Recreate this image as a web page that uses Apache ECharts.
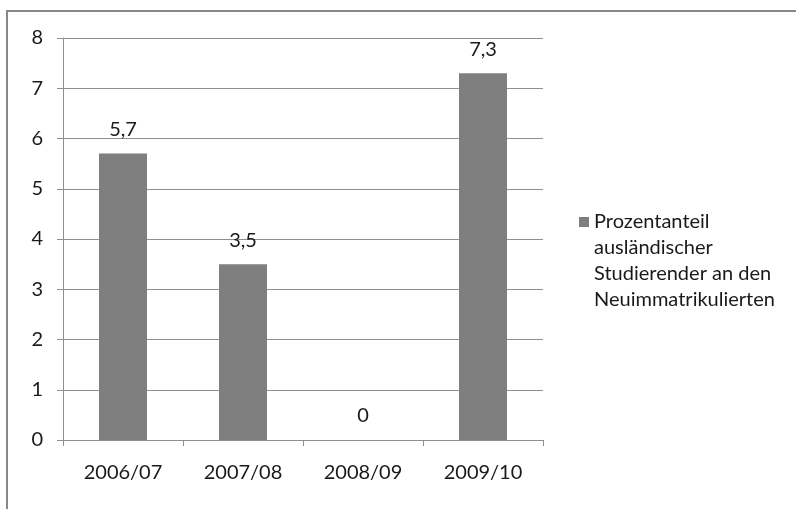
<!DOCTYPE html>
<html>
<head>
<meta charset="utf-8">
<script src="https://cdn.jsdelivr.net/npm/echarts@6/dist/echarts.min.js"></script>
<style>
  html, body { margin: 0; padding: 0; background: #fff; overflow: hidden; }
  #frame { position: absolute; left: 6px; top: 10px; width: 900px; height: 600px;
           border: 2px solid #878787; box-sizing: border-box; }
  #chart { position: absolute; left: 0; top: 0; width: 796px; height: 509px; }
</style>
</head>
<body>
<div id="frame"></div>
<div id="chart"></div>
<script>
// Semesters and share of foreign students among new enrolments (%)
const categories = ['2006/07', '2007/08', '2008/09', '2009/10'];
const values = [5.7, 3.5, 0, 7.3];
const seriesName = 'Prozentanteil ausländischer Studierender an den Neuimmatrikulierten';
const legendLines = ['Prozentanteil', 'ausländischer', 'Studierender an den', 'Neuimmatrikulierten'];
const yMin = 0, yMax = 8, yStep = 1;

const FONT = 'Lato';
const TEXT = '#1a1a1a';
const GRID = '#8f8f8f';
const BAR = '#7f7f7f';

const chart = echarts.init(document.getElementById('chart'), null, { renderer: 'canvas' });

const deComma = v => String(v).replace('.', ',');

// The legend text is centred on its marker; empty leading lines keep the
// marker level with the first line of the wrapped name.
const legendText = () => {
  const pad = new Array(legendLines.length - 1).fill('');
  return pad.concat(legendLines).join('\n');
};

chart.setOption({
  animation: false,
  textStyle: { fontFamily: FONT },
  grid: { left: 63, top: 38, width: 480, height: 402, containLabel: false },
  legend: {
    show: true,
    left: 579,
    top: 131,
    padding: 0,
    itemWidth: 10,
    itemHeight: 10,
    icon: 'rect',
    selectedMode: false,
    formatter: legendText,
    textStyle: {
      fontFamily: FONT, fontSize: 20, color: TEXT, lineHeight: 26
    },
    data: [seriesName]
  },
  xAxis: {
    type: 'category',
    data: categories,
    boundaryGap: true,
    axisLine: { show: true, lineStyle: { color: GRID, width: 1 } },
    axisTick: { show: true, alignWithLabel: false, length: 6, lineStyle: { color: GRID } },
    axisLabel: { color: TEXT, fontSize: 20, fontFamily: FONT, margin: 23 },
    splitLine: { show: false }
  },
  yAxis: {
    type: 'value',
    min: yMin, max: yMax, interval: yStep,
    axisLine: { show: true, lineStyle: { color: GRID, width: 1 } },
    axisTick: { show: true, length: 6, lineStyle: { color: GRID } },
    axisLabel: { color: TEXT, fontSize: 20, fontFamily: FONT, margin: 20 },
    splitLine: { show: true, lineStyle: { color: GRID, width: 1 } }
  },
  series: [{
    name: seriesName,
    type: 'bar',
    data: values,
    barWidth: '40%',
    itemStyle: { color: BAR },
    label: {
      show: true,
      position: 'top',
      distance: 14,
      color: TEXT,
      fontSize: 20,
      fontFamily: FONT,
      formatter: p => deComma(p.value)
    }
  }]
});
</script>
</body>
</html>
